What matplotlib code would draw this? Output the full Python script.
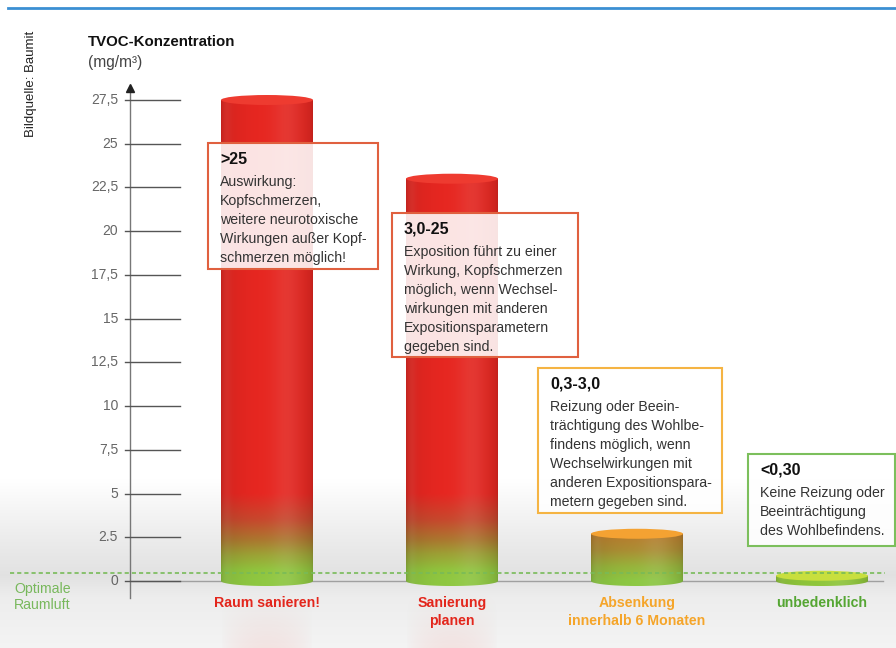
import numpy as np
import matplotlib.pyplot as plt
from matplotlib.colors import LinearSegmentedColormap
from matplotlib.patches import Ellipse, Polygon, Rectangle

plt.rcParams['font.family'] = ['Liberation Sans', 'DejaVu Sans']

# TVOC data (mg/m3)
categories = ['Raum sanieren!', 'Sanierung\nplanen', 'Absenkung\ninnerhalb 6 Monaten', 'unbedenklich']
tvoc_values = [27.5, 23.0, 2.7, 0.3]
ranges = ['>25', '3,0-25', '0,3-3,0', '<0,30']
descriptions = [
    'Auswirkung:\nKopfschmerzen,\nweitere neurotoxische\nWirkungen außer Kopf-\nschmerzen möglich!',
    'Exposition führt zu einer\nWirkung, Kopfschmerzen\nmöglich, wenn Wechsel-\nwirkungen mit anderen\nExpositionsparametern\ngegeben sind.',
    'Reizung oder Beein-\nträchtigung des Wohlbe-\nfindens möglich, wenn\nWechselwirkungen mit\nanderen Expositionspara-\nmetern gegeben sind.',
    'Keine Reizung oder\nBeeinträchtigung\ndes Wohlbefindens.',
]
y_ticks = [0, 2.5, 5, 7.5, 10, 12.5, 15, 17.5, 20, 22.5, 25, 27.5]
y_tick_labels = ['0', '2.5', '5', '7,5', '10', '12,5', '15', '17,5', '20', '22,5', '25', '27,5']
optimal_level = 0.45

# styling
label_colors = ['#e3261c', '#e3261c', '#f5a52a', '#55a633']
box_colors = ['#e0603f', '#e0603f', '#f5b443', '#7cbf5c']
top_colors = ['#ee3b30', '#ee3b30', '#f4a232', '#c8df3e']
red_grad = LinearSegmentedColormap.from_list(
    'red', [(0.0, '#8cc440'), (0.12, '#8ec03c'), (0.3, '#9a9e34'), (0.46, '#a8762e'),
            (0.7, '#c4462c'), (0.92, '#da2e24'), (1.0, '#e22620')])
orange_grad = LinearSegmentedColormap.from_list(
    'orange', [(0.0, '#8ac442'), (0.3, '#94b03a'), (0.65, '#a88a32'), (1.0, '#b6782c')])
green_grad = LinearSegmentedColormap.from_list('green', ['#8cc23a', '#9ccd3a'])
bar_grads = [(red_grad, 5.0), (red_grad, 5.0), (orange_grad, 2.7), (green_grad, 0.3)]

W, H = 896, 648
fig = plt.figure(figsize=(W / 100, H / 100), dpi=100)
ax = fig.add_axes([0, 0, 1, 1])
ax.axis('off')

# axes scale: 0 at y=581px, 27.5 at y=100px; bars 185px apart
y_unit = (581 - 100) / 27.5
x_unit = 185.0
x0_px = 267.0
xlim = (-x0_px / x_unit, (W - x0_px) / x_unit)
ylim = ((581 - H) / y_unit, 581 / y_unit)


def fx(px):
    return px / W


def fy(py):
    return 1 - py / H


def xd(px):
    return (px - x0_px) / x_unit


def yd(py):
    return (581 - py) / y_unit


# background with grey floor
rows = np.linspace(0, H, 400)
grey = np.interp(rows, [0, 480, 535, 576, 598, 648], [1.0, 1.0, 0.93, 0.885, 0.93, 0.955])
bg = np.repeat(grey[:, None], 2, axis=1)
bg = np.dstack([bg, bg, bg])
ax.imshow(bg, extent=[xlim[0], xlim[1], ylim[0], ylim[1]], origin='upper',
          aspect='auto', zorder=0, interpolation='bilinear')

bar_w = 92 / x_unit
cap_b = 5.0 / y_unit
u = np.linspace(0, 1, 160)
shade = 0.84 + 0.18 * np.sin(np.pi * u) ** 0.4
highlight = 0.08 * np.exp(-((u - 0.72) / 0.16) ** 2) + 0.05 * np.exp(-((u - 0.06) / 0.05) ** 2)

for i, val in enumerate(tvoc_values):
    cx = i
    hw = bar_w / 2
    cmap, gh = bar_grads[i]
    ys = np.linspace(val, -cap_b, 400)
    col = cmap(np.clip(ys / gh, 0, 1))[:, :3]
    img = col[:, None, :] * shade[None, :, None]
    img = img + highlight[None, :, None] * (1 - img)
    im = ax.imshow(np.clip(img, 0, 1), extent=[cx - hw, cx + hw, -cap_b, val],
                   origin='upper', aspect='auto', zorder=3, interpolation='bilinear')
    t = np.linspace(np.pi, 2 * np.pi, 60)
    arc = np.column_stack([cx + hw * np.cos(t), cap_b * np.sin(t)])
    verts = [(cx - hw, val)] + arc.tolist() + [(cx + hw, val)]
    clip = Polygon(verts, closed=True, facecolor='none', edgecolor='none')
    ax.add_patch(clip)
    im.set_clip_path(clip)
    ax.add_patch(Ellipse((cx, val), 2 * hw, 2 * cap_b, facecolor=top_colors[i],
                         edgecolor='none', zorder=4))

    # faint reflection on the floor
    if val > 5:
        n = 100
        alpha = np.interp(np.linspace(0, 1, n), [0, 0.35, 1], [0.0, 0.04, 0.12])
        rimg = np.ones((n, len(u), 4))
        rimg[:, :, :3] = np.array([0.93, 0.45, 0.40])
        rimg[:, :, 3] = alpha[:, None] * np.sin(np.pi * u)[None, :] ** 0.7
        ax.imshow(rimg, extent=[cx - hw, cx + hw, ylim[0], yd(592)],
                  origin='upper', aspect='auto', zorder=1, interpolation='bilinear')

# baseline and optimal-air line
ax.plot([xd(130), xd(883)], [0, 0], color='#a0a0a0', lw=1, zorder=2)
ax.plot([xd(10), xd(885)], [optimal_level] * 2,
        color='#78bb58', lw=1.2, ls=(0, (2.5, 1.8)), zorder=5)

# y axis with arrow and long tick lines
ax.plot([xd(130), xd(130)], [yd(598), yd(90)], color='#777777', lw=1, zorder=2)
ax.plot([xd(130)], [yd(88)], marker='^', ms=6, color='#222222', zorder=2)
for v, lab in zip(y_ticks, y_tick_labels):
    ax.plot([xd(125), xd(180)], [v, v], color='#555555', lw=1, zorder=2)
    ax.text(xd(118), v, lab, ha='right', va='center', fontsize=10, color='#666666')

# title and source
fig.text(fx(88), fy(42), 'TVOC-Konzentration', fontsize=10.8, fontweight='bold',
         color='#111111', va='center', ha='left')
fig.text(fx(88), fy(62), '(mg/m³)', fontsize=11.2, color='#444444', va='center', ha='left')
fig.text(fx(31), fy(84), 'Bildquelle: Baumit', fontsize=9.5, rotation=90,
         color='#222222', va='center', ha='center')
fig.text(fx(14), fy(589), 'Optimale', fontsize=10.2, color='#78b85c', va='center')
fig.text(fx(14), fy(605), 'Raumluft', fontsize=10.2, color='#78b85c', va='center')

# top rule
fig.add_artist(plt.Line2D([fx(8), 1], [fy(8), fy(8)], color='#3b8fd3', lw=2))

# category labels
for i, cat in enumerate(categories):
    ax.text(i, yd(596), cat, ha='center', va='top', fontsize=10.2,
            fontweight='bold', color=label_colors[i], linespacing=1.4, zorder=5)

# annotation boxes (left, top, width, height in px)
boxes = [(208, 143, 170, 126), (392, 213, 186, 144), (538, 368, 184, 145), (748, 454, 147, 92)]
for i, (left, top, bw, bh) in enumerate(boxes):
    ax.add_patch(Rectangle((fx(left), fy(top + bh)), bw / W, bh / H, transform=fig.transFigure,
                           facecolor='white', alpha=0.88, edgecolor='none', zorder=6))
    ax.add_patch(Rectangle((fx(left), fy(top + bh)), bw / W, bh / H, transform=fig.transFigure,
                           facecolor='none', edgecolor=box_colors[i], lw=1.5, zorder=7))
    ax.text(fx(left + 12), fy(top + 16), ranges[i], transform=fig.transFigure,
            fontsize=11.5, fontweight='bold', color='#111111', va='center', zorder=8)
    ax.text(fx(left + 12), fy(top + 32), descriptions[i], transform=fig.transFigure,
            fontsize=10.2, color='#333333', va='top', linespacing=1.45, zorder=8)

ax.set_xlim(*xlim)
ax.set_ylim(*ylim)
fig.savefig('out.png', dpi=100)
